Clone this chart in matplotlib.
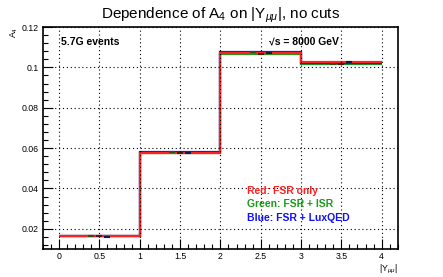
import numpy as np
import matplotlib
matplotlib.use("Agg")
import matplotlib.pyplot as plt
from matplotlib.ticker import MultipleLocator

plt.rcParams['font.family'] = ['Liberation Sans', 'DejaVu Sans']
plt.rcParams['mathtext.fontset'] = 'custom'
plt.rcParams['mathtext.rm'] = 'Liberation Sans'
plt.rcParams['mathtext.it'] = 'Liberation Sans:italic'

# bin edges in |Y_mumu| and A4 per bin
bin_edges = [0, 1, 2, 3, 4]
a4_red = [0.0163, 0.0575, 0.1070, 0.1025]
a4_green = [0.0163, 0.0577, 0.1065, 0.1015]
a4_blue = [0.0163, 0.0580, 0.1075, 0.1020]

# small error-bar points (offset inside each bin)
pt_x_green = [0.4, 1.4, 2.4, 3.4]
pt_y_green = [0.0165, 0.0580, 0.1078, 0.1019]
pt_x_red = [0.5, 1.5, 2.5, 3.5]
pt_y_red = [0.0163, 0.0577, 0.1066, 0.1018]
pt_x_blue = [0.6, 1.6, 2.6, 3.6]
pt_y_blue = [0.0162, 0.0578, 0.1072, 0.1028]

series = [
    (a4_green, '#1a9c1a'),
    (a4_blue, '#1010ff'),
    (a4_red, '#ff2020'),
]

fig = plt.figure(figsize=(4.43, 2.77), dpi=100)
ax = fig.add_axes([0.097, 0.101, 0.801, 0.8015])

for vals, col in series:
    ax.stairs(vals, bin_edges, color=col, linewidth=1.6, baseline=None)

ax.plot(pt_x_green, pt_y_green, linestyle='none', marker='_', color='#3a4a1a', markersize=5, mew=1.5)
ax.plot(pt_x_red, pt_y_red, linestyle='none', marker='_', color='#4a1a1a', markersize=5, mew=1.5)
ax.plot(pt_x_blue, pt_y_blue, linestyle='none', marker='_', color='#101a4a', markersize=5, mew=1.5)

ax.set_xlim(-0.2, 4.2)
ax.set_ylim(0.01, 0.12)
ax.xaxis.set_minor_locator(MultipleLocator(0.1))
ax.yaxis.set_minor_locator(MultipleLocator(0.004))
ax.set_xticks(np.arange(0, 4.01, 0.5))
ax.set_xticklabels(['0', '0.5', '1', '1.5', '2', '2.5', '3', '3.5', '4'])
ax.set_yticks([0.02, 0.04, 0.06, 0.08, 0.1, 0.12])
ax.set_yticklabels(['0.02', '0.04', '0.06', '0.08', '0.1', '0.12'])
ax.tick_params(which='both', direction='in', labelsize=6.3, top=False, right=False)
ax.tick_params(which='major', length=7, width=0.8)
ax.tick_params(which='minor', length=3.5, width=0.8)
ax.tick_params(axis='x', pad=2.5)
ax.tick_params(axis='y', pad=3)
ax.grid(True, which='major', linestyle=(0, (1, 2.5)), color='black', linewidth=0.8)
for sp in ax.spines.values():
    sp.set_linewidth(1.2)

ax.set_title(r'Dependence of A$_4$ on |Y$_{\mu\mu}$|, no cuts', fontsize=11, pad=6)
ax.text(-0.065, 1.0, r'A$_4$', transform=ax.transAxes, rotation=90, fontsize=6.3,
        ha='right', va='top')
ax.text(1.0, -0.062, r'|Y$_{\mu\mu}$|', transform=ax.transAxes, fontsize=6.3,
        ha='right', va='top')

ax.text(0.02, 0.1126, '5.7G events', fontsize=7.5, fontweight='bold', va='center')
ax.text(2.6, 0.1126, '\u221as = 8000 GeV', fontsize=7.5, fontweight='bold', va='center')
ax.text(2.33, 0.0388, 'Red: FSR only', fontsize=7.5, fontweight='bold', color='#ff2020', va='center')
ax.text(2.33, 0.0325, 'Green: FSR + ISR', fontsize=7.5, fontweight='bold', color='#1a9c1a', va='center')
ax.text(2.33, 0.0256, 'Blue: FSR + LuxQED', fontsize=7.5, fontweight='bold', color='#1010ff', va='center')

plt.savefig('out.png', dpi=100)
